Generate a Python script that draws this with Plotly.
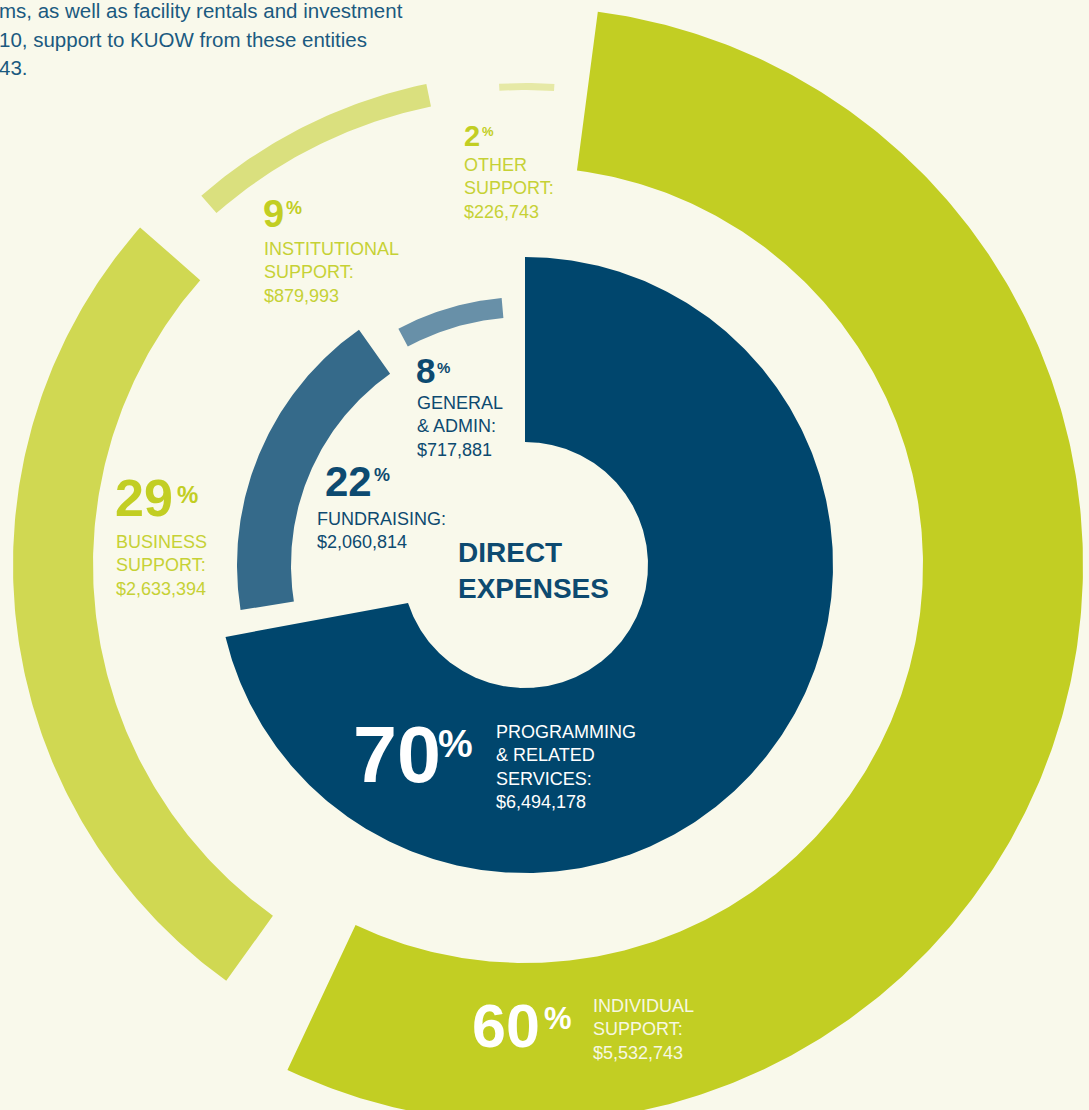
import numpy as np
import plotly.graph_objects as go

# ---------------- data ----------------
support_labels = ["Individual Support", "Business Support", "Institutional Support", "Other Support"]
support_lines = [["INDIVIDUAL", "SUPPORT:"], ["BUSINESS", "SUPPORT:"], ["INSTITUTIONAL", "SUPPORT:"], ["OTHER", "SUPPORT:"]]
support_pct = [60, 29, 9, 2]
support_amounts = [5532743, 2633394, 879993, 226743]

expense_labels = ["Programming & Related Services", "Fundraising", "General & Admin"]
expense_lines = [["PROGRAMMING", "& RELATED", "SERVICES:"], ["FUNDRAISING:"], ["GENERAL", "& ADMIN:"]]
expense_pct = [70, 22, 8]
expense_amounts = [6494178, 2060814, 717881]

center_title = ["DIRECT", "EXPENSES"]
intro_lines = ["ms, as well as facility rentals and investment",
               "10, support to KUOW from these entities",
               "43."]

# ---------------- style ----------------
W, H = 1089, 1110
CX, CY = 525, 565
BG = "#f9f9eb"
FONT = "Liberation Sans, Arial, sans-serif"
LIME = "#c2ce23"
NAVY = "#0d4a70"
PARA = "#1b5a80"

support_colors = ["#c2ce23", "#d0d852", "#dae07e", "#e6e9a6"]
support_radii = [(398, 558), (432, 512), (468, 491), (475, 482)]
support_start = 7.5
support_gaps = [10.5, 7.5, 8.5, 4.0]

expense_colors = ["#00466d", "#356a8a", "#6890a8"]
expense_radii = [(123, 308), (234, 288), (248, 268)]
expense_gaps = [9.0, 7.0, 5.0]
expense_outer_skew = [4.5, 0.0, 0.0]


def support_angles():
    avail = 360 - sum(support_gaps)
    tot = sum(support_pct)
    out, a = [], support_start
    for p, g in zip(support_pct, support_gaps):
        w = p / tot * avail
        out.append((a, a + w))
        a += w + g
    return out


def expense_angles():
    # first segment keeps its true share of the circle, the rest share the remainder
    first = expense_pct[0] * 3.6
    out = [(0.0, first)]
    rest = 360 - first - sum(expense_gaps)
    tot = sum(expense_pct[1:])
    a = first + expense_gaps[0]
    for p, g in zip(expense_pct[1:], expense_gaps[1:]):
        w = p / tot * rest
        out.append((a, a + w))
        a += w + g
    return out


def sector(a0, a1, r0, r1, skew=0.0):
    n = max(int(abs(a1 - a0) * 2), 8)
    ao = np.radians(np.linspace(a0, a1 + skew, n))
    ai = np.radians(np.linspace(a1, a0, n))
    xs = np.concatenate([CX + r1 * np.sin(ao), CX + r0 * np.sin(ai)])
    ys = np.concatenate([CY - r1 * np.cos(ao), CY - r0 * np.cos(ai)])
    return np.append(xs, xs[0]), np.append(ys, ys[0])


fig = go.Figure()

for (a0, a1), (r0, r1), col, lab, p, amt in zip(support_angles(), support_radii, support_colors,
                                               support_labels, support_pct, support_amounts):
    x, y = sector(a0, a1, r0, r1)
    fig.add_trace(go.Scatter(x=x, y=y, fill="toself", fillcolor=col, mode="lines",
                             line=dict(width=0, color=col), name=lab,
                             hovertemplate=f"{lab}: {p}% (${amt:,})<extra></extra>"))

for (a0, a1), (r0, r1), col, lab, p, amt, sk in zip(expense_angles(), expense_radii, expense_colors,
                                                   expense_labels, expense_pct, expense_amounts,
                                                   expense_outer_skew):
    x, y = sector(a0, a1, r0, r1, sk)
    fig.add_trace(go.Scatter(x=x, y=y, fill="toself", fillcolor=col, mode="lines",
                             line=dict(width=0, color=col), name=lab,
                             hovertemplate=f"{lab}: {p}% (${amt:,})<extra></extra>"))

ann = []


def txt(x, baseline, text, size, color, bold=False):
    t = f"<b>{text}</b>" if bold else text
    y = baseline - 0.905 * size
    xs, ys = 0, 0
    if x < 0:
        xs, x = x, 0
    if y < 0:
        ys, y = -y, 0
    ann.append(dict(x=x, y=y, xref="x", yref="y", text=t, xshift=xs, yshift=ys,
                    xanchor="left", yanchor="top", showarrow=False, align="left",
                    borderpad=0, font=dict(family=FONT, size=size, color=color)))


# intro paragraph
for i, line in enumerate(intro_lines):
    txt(-2, 17 + i * 28.5, line, 20.5, PARA)

# label placements: (num_x, num_base, num_size, pct_x, pct_base, pct_size, txt_x, txt_base, color_num, color_txt)
support_pos = [
    (471, 1046, 61, 543, 1028, 31, 592, 1011, "#ffffff", "#f7f8e2"),
    (114, 515, 52, 176, 502, 24, 115, 547, LIME, "#c6d135"),
    (262, 226, 38, 285, 213, 18, 263, 254, LIME, "#c6d135"),
    (463, 145, 29, 481, 135, 13, 463, 170, LIME, "#c6d135"),
]
expense_pos = [
    (352, 780, 79, 437, 756, 39, 495, 737, "#ffffff", "#ffffff"),
    (324, 495, 42, 373, 480, 18, 316, 524, NAVY, NAVY),
    (415, 382, 35, 436, 372, 15, 416, 408, NAVY, NAVY),
]

for pos, p, lines, amt in list(zip(support_pos, support_pct, support_lines, support_amounts)) + \
        list(zip(expense_pos, expense_pct, expense_lines, expense_amounts)):
    nx, nb, ns, px, pb, ps, tx, tb, cn, ct = pos
    txt(nx, nb, str(p), ns, cn, bold=True)
    txt(px, pb, "%", ps, cn, bold=True)
    txt(tx, tb, "<br>".join(lines + [f"${amt:,}"]), 18, ct)

txt(457, 561, "<br>".join(center_title), 28, NAVY, bold=True)

fig.update_layout(
    width=W, height=H, margin=dict(l=0, r=0, t=0, b=0),
    paper_bgcolor=BG, plot_bgcolor=BG, showlegend=False,
    xaxis=dict(range=[0, W], visible=False, fixedrange=True),
    yaxis=dict(range=[H, 0], visible=False, fixedrange=True),
    annotations=ann,
)

fig.write_html("out.html", config={"displayModeBar": False},
               post_script="document.body.style.margin='0';document.body.style.background='%s';" % BG)
